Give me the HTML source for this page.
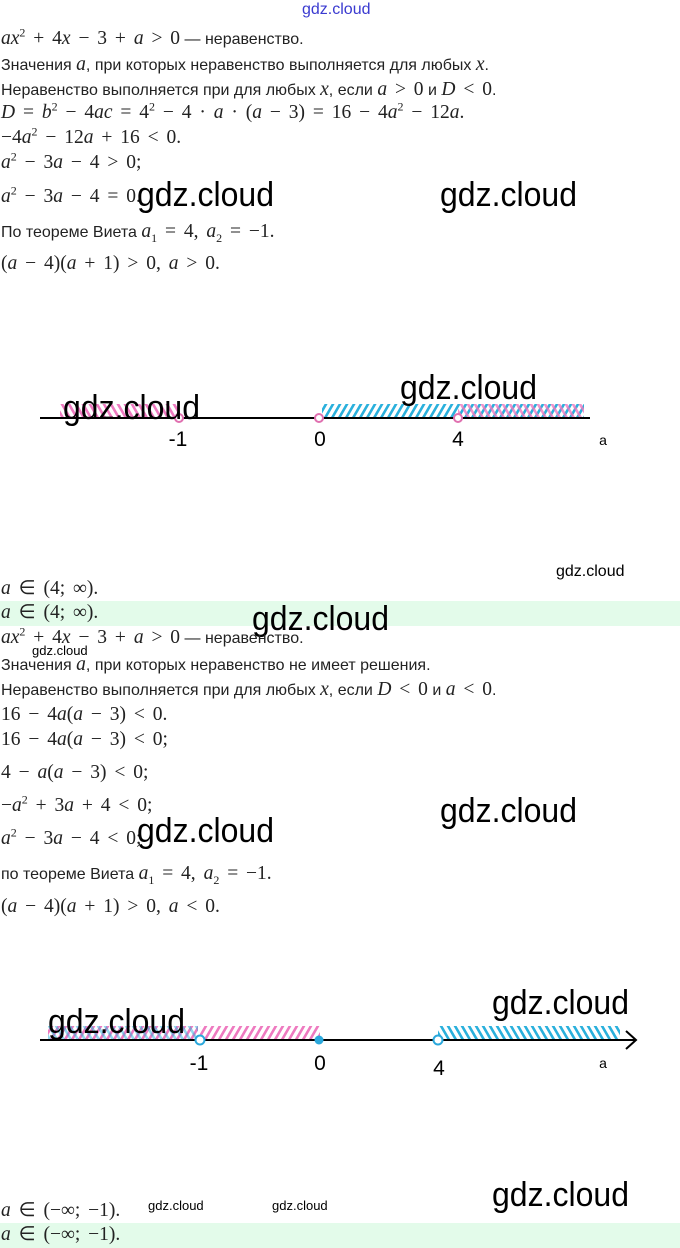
<!DOCTYPE html>
<html><head><meta charset="utf-8"><style>
body{margin:0;width:680px;height:1248px;position:relative;background:#fff;overflow:hidden;font-family:"Liberation Sans",sans-serif;color:#222}
.l{position:absolute;left:1px;white-space:nowrap;font-size:16px;line-height:20px}
.m{font-family:"Liberation Serif",serif;font-size:19.5px;word-spacing:3px}
.m i{font-style:italic}
.w{position:absolute;white-space:nowrap;color:#000;font-family:"Liberation Sans",sans-serif;font-size:32px;line-height:34px;transform:scaleY(1.08)}
.ws{position:absolute;white-space:nowrap;color:#000;font-size:15px;line-height:16px}
.band{position:absolute;left:0;width:680px;height:25px;background:#e3fbea}
sup{font-size:12px;line-height:0}
sub{font-size:12px;line-height:0}
</style></head><body>
<div class="band" style="top:601px"></div>
<div class="band" style="top:1223px"></div>

<div class="ws" style="left:302px;top:2px;color:#3a3ad0;font-size:16px">gdz.cloud</div>

<div class="l" style="top:29px"><span class="m"><i>ax</i><sup>2</sup> + 4<i>x</i> − 3 + <i>a</i> &gt; 0</span> — неравенство.</div>
<div class="l" style="top:55px">Значения <span class="m"><i>a</i></span>, при которых неравенство выполняется для любых <span class="m"><i>x</i></span>.</div>
<div class="l" style="top:80px">Неравенство выполняется при для любых <span class="m"><i>x</i></span>, если <span class="m"><i>a</i> &gt; 0</span> и <span class="m"><i>D</i> &lt; 0</span>.</div>
<div class="l" style="top:103px"><span class="m"><i>D</i> = <i>b</i><sup>2</sup> − 4<i>ac</i> = 4<sup>2</sup> − 4 · <i>a</i> · (<i>a</i> − 3) = 16 − 4<i>a</i><sup>2</sup> − 12<i>a</i>.</span></div>
<div class="l" style="top:128px"><span class="m">−4<i>a</i><sup>2</sup> − 12<i>a</i> + 16 &lt; 0.</span></div>
<div class="l" style="top:153px"><span class="m"><i>a</i><sup>2</sup> − 3<i>a</i> − 4 &gt; 0;</span></div>
<div class="l" style="top:187px"><span class="m"><i>a</i><sup>2</sup> − 3<i>a</i> − 4 = 0.</span></div>
<div class="w" style="left:137px;top:177px">gdz.cloud</div>
<div class="w" style="left:440px;top:177px">gdz.cloud</div>
<div class="l" style="top:222px">По теореме Виета <span class="m"><i>a</i><sub>1</sub> = 4, <i>a</i><sub>2</sub> = −1.</span></div>
<div class="l" style="top:254px"><span class="m">(<i>a</i> − 4)(<i>a</i> + 1) &gt; 0, <i>a</i> &gt; 0.</span></div>

<svg style="position:absolute;left:0;top:360px" width="680" height="100">
<defs>
<pattern id="pb" width="7" height="14" patternUnits="userSpaceOnUse" patternTransform="skewX(-30)"><rect width="3" height="14" fill="#2ab0dc"/></pattern>
<pattern id="pp" width="7" height="14" patternUnits="userSpaceOnUse" patternTransform="skewX(30)"><rect width="3" height="14" fill="#ee7ac0"/></pattern>
<pattern id="pb2" width="7" height="14" patternUnits="userSpaceOnUse" patternTransform="skewX(30)"><rect width="3" height="14" fill="#2ab0dc"/></pattern>
<pattern id="pp2" width="7" height="14" patternUnits="userSpaceOnUse" patternTransform="skewX(-30)"><rect width="3" height="14" fill="#ee7ac0"/></pattern>
</defs>
<rect x="60" y="44" width="120" height="13" fill="url(#pp)"/>
<rect x="322" y="44" width="262" height="13" fill="url(#pb)"/>
<rect x="458" y="44" width="126" height="13" fill="url(#pp)" opacity="0.8"/>
<line x1="40" y1="58" x2="590" y2="58" stroke="#000" stroke-width="2"/>
<circle cx="179" cy="58" r="4" fill="#fff" stroke="#e070b0" stroke-width="2"/>
<circle cx="319" cy="58" r="4" fill="#fff" stroke="#e070b0" stroke-width="2"/>
<circle cx="458" cy="58" r="4" fill="#fff" stroke="#e070b0" stroke-width="2"/>
<text x="178" y="86" font-size="21" text-anchor="middle" font-family="Liberation Sans">-1</text>
<text x="320" y="86" font-size="21" text-anchor="middle" font-family="Liberation Sans">0</text>
<text x="458" y="86" font-size="21" text-anchor="middle" font-family="Liberation Sans">4</text>
<text x="603" y="85" font-size="14" text-anchor="middle" font-family="Liberation Sans">a</text>
</svg>
<div class="w" style="left:400px;top:370px">gdz.cloud</div>
<div class="w" style="left:63px;top:390px">gdz.cloud</div>

<div class="ws" style="left:556px;top:564px;font-size:16px">gdz.cloud</div>
<div class="l" style="top:579px"><span class="m"><i>a</i> ∈ (4; ∞).</span></div>
<div class="l" style="top:603px"><span class="m"><i>a</i> ∈ (4; ∞).</span></div>
<div class="w" style="left:252px;top:601px">gdz.cloud</div>
<div class="l" style="top:628px"><span class="m"><i>ax</i><sup>2</sup> + 4<i>x</i> − 3 + <i>a</i> &gt; 0</span> — неравенство.</div>
<div class="ws" style="left:32px;top:643px;font-size:13px">gdz.cloud</div>
<div class="l" style="top:655px">Значения <span class="m"><i>a</i></span>, при которых неравенство не имеет решения.</div>
<div class="l" style="top:680px">Неравенство выполняется при для любых <span class="m"><i>x</i></span>, если <span class="m"><i>D</i> &lt; 0</span> и <span class="m"><i>a</i> &lt; 0</span>.</div>
<div class="l" style="top:705px"><span class="m">16 − 4<i>a</i>(<i>a</i> − 3) &lt; 0.</span></div>
<div class="l" style="top:730px"><span class="m">16 − 4<i>a</i>(<i>a</i> − 3) &lt; 0;</span></div>
<div class="l" style="top:763px"><span class="m">4 − <i>a</i>(<i>a</i> − 3) &lt; 0;</span></div>
<div class="l" style="top:796px"><span class="m">−<i>a</i><sup>2</sup> + 3<i>a</i> + 4 &lt; 0;</span></div>
<div class="w" style="left:440px;top:793px">gdz.cloud</div>
<div class="l" style="top:829px"><span class="m"><i>a</i><sup>2</sup> − 3<i>a</i> − 4 &lt; 0;</span></div>
<div class="w" style="left:137px;top:813px">gdz.cloud</div>
<div class="l" style="top:864px">по теореме Виета <span class="m"><i>a</i><sub>1</sub> = 4, <i>a</i><sub>2</sub> = −1.</span></div>
<div class="l" style="top:897px"><span class="m">(<i>a</i> − 4)(<i>a</i> + 1) &gt; 0, <i>a</i> &lt; 0.</span></div>

<svg style="position:absolute;left:0;top:980px" width="680" height="100">
<rect x="48" y="46" width="150" height="13" fill="url(#pp2)"/>
<rect x="48" y="46" width="150" height="13" fill="url(#pb2)" opacity="0.5"/>
<rect x="200" y="46" width="120" height="13" fill="url(#pp2)"/>
<rect x="438" y="46" width="182" height="13" fill="url(#pb2)"/>
<line x1="40" y1="60" x2="636" y2="60" stroke="#000" stroke-width="2"/>
<polyline points="626,51 636,60 626,69" fill="none" stroke="#000" stroke-width="2"/>
<circle cx="200" cy="60" r="4.5" fill="#fff" stroke="#2aa8dc" stroke-width="2"/>
<circle cx="319" cy="60" r="4.5" fill="#2aa8dc"/>
<circle cx="438" cy="60" r="4.5" fill="#fff" stroke="#2aa8dc" stroke-width="2"/>
<text x="199" y="90" font-size="21" text-anchor="middle" font-family="Liberation Sans">-1</text>
<text x="320" y="90" font-size="21" text-anchor="middle" font-family="Liberation Sans">0</text>
<text x="439" y="95" font-size="21" text-anchor="middle" font-family="Liberation Sans">4</text>
<text x="603" y="88" font-size="14" text-anchor="middle" font-family="Liberation Sans">a</text>
</svg>
<div class="w" style="left:492px;top:985px">gdz.cloud</div>
<div class="w" style="left:48px;top:1004px">gdz.cloud</div>

<div class="w" style="left:492px;top:1177px">gdz.cloud</div>
<div class="l" style="top:1201px"><span class="m"><i>a</i> ∈ (−∞; −1).</span></div>
<div class="ws" style="left:148px;top:1198px;font-size:13px">gdz.cloud</div>
<div class="ws" style="left:272px;top:1198px;font-size:13px">gdz.cloud</div>
<div class="l" style="top:1225px"><span class="m"><i>a</i> ∈ (−∞; −1).</span></div>
</body></html>
